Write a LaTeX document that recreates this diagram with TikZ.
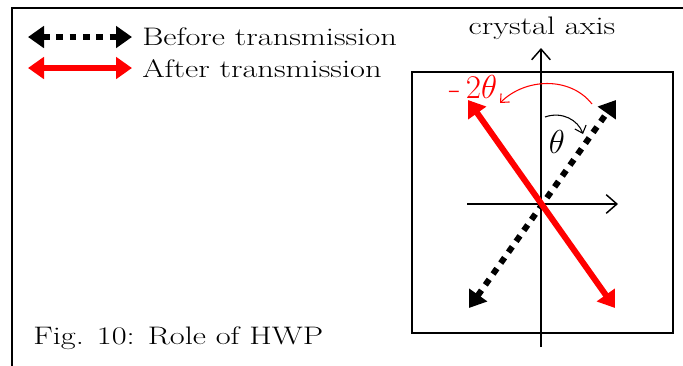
\documentclass[tikz,border=0pt]{standalone}
\usepackage{fontspec}
\setmainfont{Latin Modern Roman}[FakeStretch=1.28]
\usetikzlibrary{arrows.meta,positioning,calc}
\begin{document}
\begin{tikzpicture}[x=0.75pt,y=-0.75pt,
  polbefore/.style={line width=4.5pt,dash pattern=on 5pt off 5pt,{Triangle[length=12pt,width=16pt]}-{Triangle[length=12pt,width=16pt]}},
  polafter/.style={red,line width=4.5pt,{Triangle[length=12pt,width=16pt]}-{Triangle[length=12pt,width=16pt]}},
  axisline/.style={line width=1.1pt,-{Straight Barb[length=8pt,width=14pt]}},
  anglearc/.style={line width=0.8pt,-{Straight Barb[length=5pt,width=9pt]}},
  label/.style={inner sep=0pt,font=\fontsize{19}{22}\selectfont},
  anglabel/.style={inner sep=0pt,font=\fontsize{23}{26}\selectfont}]
  \useasboundingbox (0,0) rectangle (683,365);
  % outer frame
  \draw[line width=1.5pt] (12,370) -- (12,8) -- (690,8);
  % legend
  \coordinate (b1) at (28,37);
  \coordinate (b2) at (132,37);
  \coordinate (a1) at (28,68);
  \coordinate (a2) at (132,68);
  \draw[polbefore] (b1) -- (b2);
  \draw[polafter] (a1) -- (a2);
  \node[label,anchor=west] (tbefore) at (142,37) {Before transmission};
  \node[label,anchor=west] (tafter) at (142,69) {After transmission};
  % wave plate
  \draw[line width=1.1pt] (412,72) rectangle (673,333);
  \coordinate (O) at (541,204);
  \coordinate (ybot) at (541,347);
  \coordinate (ytop) at (541,48);
  \coordinate (xleft) at (467,204);
  \coordinate (xright) at (618,204);
  \draw[axisline] (ybot) -- (ytop);
  \draw[axisline] (xleft) -- (xright);
  \node[label] (axis) at (542,28) {crystal axis};
  % polarisation before / after
  \coordinate (p1) at (469,308);
  \coordinate (p2) at (616,100);
  \coordinate (q1) at (615,308);
  \coordinate (q2) at (468,100);
  \draw[polbefore] (p1) -- (p2);
  \draw[polafter] (q1) -- (q2);
  % angles
  \draw[anglearc] (545,117) .. controls (562,111) and (578,120) .. (583,134);
  \node[anglabel] (th) at (557,142) {$\theta$};
  \draw[anglearc,red] (592,104) .. controls (570,76) and (525,78) .. (500,103);
  \node[anglabel,red] (tth) at (473,87) {-\,$2\theta$};
  % caption
  \node[label,anchor=west] (cap) at (33,338) {Fig. 10: Role of HWP};
\end{tikzpicture}
\end{document}
